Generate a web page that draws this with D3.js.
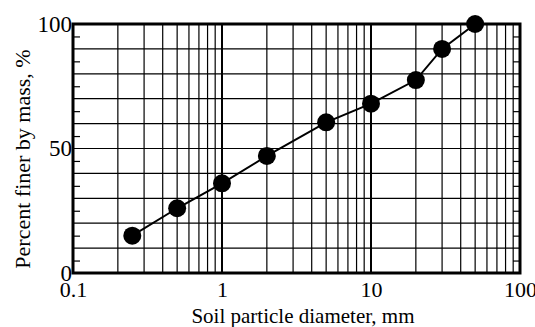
<!DOCTYPE html>
<html>
<head>
<meta charset="utf-8">
<script src="https://cdn.jsdelivr.net/npm/d3@7"></script>
<style>
  body { margin: 0; background: #fff; }
  svg { display: block; }
  svg text { font-family: "Liberation Serif", "DejaVu Serif", serif; fill: #000; }
</style>
</head>
<body>
<div id="chart"></div>
<script>
// DATA
const diameters = [0.25, 0.5, 1, 2, 5, 10, 20, 30, 50];
const percentFiner = [15, 26, 36, 47, 60.5, 68, 77.5, 90, 100];
const xTickValues = [0.1, 1, 10, 100];
const xTickLabels = ['0.1', '1', '10', '100'];
const yTickValues = [0, 50, 100];
const xTitle = 'Soil particle diameter, mm';
const yTitle = 'Percent finer by mass, %';

const W = 535, H = 327;
const m = { top: 24, right: 15, bottom: 54, left: 73 };
const w = W - m.left - m.right;
const h = H - m.top - m.bottom;

const svg = d3.select('#chart').append('svg')
  .attr('width', W).attr('height', H);

const g = svg.append('g').attr('transform', `translate(${m.left},${m.top})`);

// SCALES
const x = d3.scaleLog().domain([0.1, 100]).range([0, w]);
const y = d3.scaleLinear().domain([0, 100]).range([h, 0]);

// VERTICAL GRID (log minor)
const minor = [];
for (let dec = 0.1; dec < 100; dec *= 10) {
  for (let k = 2; k <= 9; k++) minor.push(+(dec * k).toPrecision(3));
}
g.append('g').selectAll('line').data(minor).enter().append('line')
  .attr('x1', d => x(d)).attr('x2', d => x(d))
  .attr('y1', 0).attr('y2', h)
  .attr('stroke', '#000').attr('stroke-width', 1.2);

g.append('g').selectAll('line').data([1, 10]).enter().append('line')
  .attr('x1', d => x(d)).attr('x2', d => x(d))
  .attr('y1', 0).attr('y2', h)
  .attr('stroke', '#000').attr('stroke-width', 2);

// HORIZONTAL GRID
g.append('g').selectAll('line').data(d3.range(10, 100, 10)).enter().append('line')
  .attr('x1', 0).attr('x2', w)
  .attr('y1', d => y(d)).attr('y2', d => y(d))
  .attr('stroke', '#000').attr('stroke-width', 1.2);

// INWARD TICKS AT 5s
const fives = d3.range(5, 100, 10);
g.append('g').call(d3.axisLeft(y).tickValues(fives).tickSize(-7).tickFormat(''))
  .call(a => a.select('.domain').remove())
  .selectAll('line').attr('stroke-width', 1.2);
g.append('g').attr('transform', `translate(${w},0)`)
  .call(d3.axisRight(y).tickValues(fives).tickSize(-7).tickFormat(''))
  .call(a => a.select('.domain').remove())
  .selectAll('line').attr('stroke-width', 1.2);

// FRAME
g.append('rect').attr('width', w).attr('height', h)
  .attr('fill', 'none').attr('stroke', '#000').attr('stroke-width', 3);

// AXIS LABELS
const xa = g.append('g').attr('transform', `translate(0,${h})`)
  .call(d3.axisBottom(x).tickValues(xTickValues).tickSize(0).tickPadding(8)
    .tickFormat((d, i) => xTickLabels[i]));
xa.select('.domain').remove();
xa.attr('font-family', null).attr('font-size', null);
xa.selectAll('text').style('font-size', '22px');

const ya = g.append('g')
  .call(d3.axisLeft(y).tickValues(yTickValues).tickSize(0).tickPadding(1));
ya.select('.domain').remove();
ya.attr('font-family', null).attr('font-size', null);
ya.selectAll('text').style('font-size', '23px');

// LINE + MARKERS
const pts = diameters.map((d, i) => [d, percentFiner[i]]);
g.append('path').datum(pts)
  .attr('fill', 'none').attr('stroke', '#000').attr('stroke-width', 2)
  .attr('d', d3.line().x(d => x(d[0])).y(d => y(d[1])));

g.append('g').selectAll('circle').data(pts).enter().append('circle')
  .attr('cx', d => x(d[0])).attr('cy', d => y(d[1])).attr('r', 9)
  .attr('fill', '#000');

// TITLES
svg.append('text')
  .attr('x', 303).attr('y', 323)
  .attr('text-anchor', 'middle').style('font-size', '21px')
  .text(xTitle);

svg.append('text')
  .attr('transform', `translate(30,159) rotate(-90)`)
  .attr('text-anchor', 'middle').style('font-size', '22px')
  .text(yTitle);
</script>
</body>
</html>
